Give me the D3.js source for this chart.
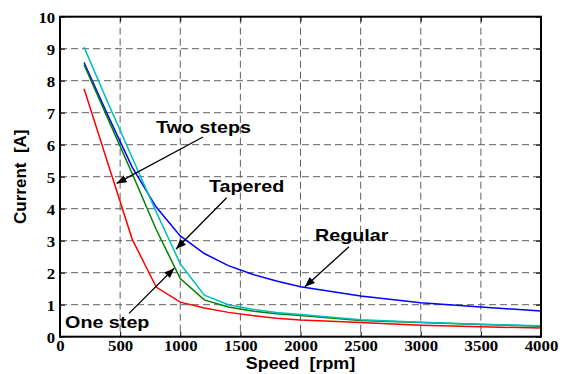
<!DOCTYPE html>
<html>
<head>
<meta charset="utf-8">
<script src="https://cdn.jsdelivr.net/npm/d3@7"></script>
<style>
  body { margin: 0; background: #fff; }
  svg { display: block; }
</style>
</head>
<body>
<script>
// speed [rpm] shared by every curve
const speed = [200, 400, 600, 800, 1000, 1200, 1400, 1600, 1800, 2000, 2500, 3000, 3500, 4000]

// current [A] per control strategy
const oneStep = [7.75, 5.4, 3.05, 1.55, 1.08, 0.9, 0.76, 0.66, 0.58, 0.52, 0.44, 0.36, 0.31, 0.27]
const regular = [8.57, 6.9, 5.3, 4.05, 3.15, 2.6, 2.22, 1.95, 1.74, 1.56, 1.27, 1.06, 0.93, 0.8]
const twoSteps = [8.5, 6.8, 5.1, 3.35, 1.82, 1.15, 0.93, 0.8, 0.72, 0.66, 0.51, 0.44, 0.38, 0.33]
const tapered = [9.05, 7.3, 5.6, 3.9, 2.28, 1.3, 1.0, 0.86, 0.76, 0.69, 0.53, 0.45, 0.39, 0.34]

const xTicks = [0, 500, 1000, 1500, 2000, 2500, 3000, 3500, 4000]
const yTicks = [0, 1, 2, 3, 4, 5, 6, 7, 8, 9, 10]

// label text, text anchor [rpm, A], arrow tail and arrow tip [rpm, A]
const notes = [
  { text: 'Two steps', at: [798, 6.37], from: [1189, 6.24], to: [471, 4.79] },
  { text: 'Tapered', at: [1239, 4.53], from: [1386, 4.34], to: [965, 2.74] },
  { text: 'One step', at: [42, 0.27], from: [574, 0.73], to: [950, 2.14] },
  { text: 'Regular', at: [2121, 2.99], from: [2403, 2.81], to: [2037, 1.56] }
]

const series = [
  { name: 'One step', values: oneStep, color: '#ff0000' },
  { name: 'Regular', values: regular, color: '#0000ff' },
  { name: 'Two steps', values: twoSteps, color: '#008000' },
  { name: 'Tapered', values: tapered, color: '#00bfbf' }
]

const W = 566, H = 374
const m = { top: 16.7, right: 25, bottom: 37.3, left: 60 }

const x = d3.scaleLinear().domain([0, 4000]).range([m.left, W - m.right])
const y = d3.scaleLinear().domain([0, 10]).range([H - m.bottom, m.top])

const svg = d3.select('body').append('svg').attr('width', W).attr('height', H)

// the original figure's lettering is a bit wider than our fonts
const stretch = (sel, sx) => sel.attr('transform', function () {
  const t = d3.select(this).attr('transform') || ''
  return `${t} scale(${sx},1)`
})

// dashed grid
const grid = svg.append('g').attr('stroke', '#606060').attr('stroke-width', 1).attr('stroke-dasharray', '7,4')
grid.selectAll('.gx').data(xTicks.slice(1, -1)).join('line')
  .attr('x1', d => x(d)).attr('x2', d => x(d))
  .attr('y1', y(10)).attr('y2', y(0))
grid.selectAll('.gy').data(yTicks.slice(1, -1)).join('line')
  .attr('y1', d => y(d)).attr('y2', d => y(d))
  .attr('x1', x(0)).attr('x2', x(4000))

// curves
const line = d3.line().x(d => x(d[0])).y(d => y(d[1]))
svg.append('g').selectAll('path').data(series).join('path')
  .attr('d', s => line(speed.map((v, i) => [v, s.values[i]])))
  .attr('fill', 'none')
  .attr('stroke', s => s.color)
  .attr('stroke-width', 1.5)

// inward ticks on all sides, labels on left/bottom
const tickFont = g => g.selectAll('text')
  .attr('font-family', '"Liberation Serif", "Times New Roman", serif')
  .attr('font-weight', 'bold').attr('font-size', 14).attr('fill', '#000')
  .call(stretch, 1.2)

svg.append('g').attr('transform', `translate(0,${y(0)})`)
  .call(d3.axisBottom(x).tickValues(xTicks).tickSize(-5).tickPadding(4).tickFormat(d3.format('d')))
  .call(g => g.select('.domain').remove())
  .call(tickFont)
svg.append('g').attr('transform', `translate(${x(0)},0)`)
  .call(d3.axisLeft(y).tickValues(yTicks).tickSize(-5).tickPadding(4).tickFormat(d3.format('d')))
  .call(g => g.select('.domain').remove())
  .call(tickFont)
  .call(g => g.selectAll('text').attr('dy', '0.38em'))
svg.append('g').attr('transform', `translate(0,${y(10)})`)
  .call(d3.axisTop(x).tickValues(xTicks).tickSize(-5).tickFormat(''))
  .call(g => g.select('.domain').remove())
svg.append('g').attr('transform', `translate(${x(4000)},0)`)
  .call(d3.axisRight(y).tickValues(yTicks).tickSize(-5).tickFormat(''))
  .call(g => g.select('.domain').remove())
svg.selectAll('.tick line').attr('stroke', '#000').attr('stroke-width', 1)

// frame
svg.append('rect')
  .attr('x', x(0)).attr('y', y(10))
  .attr('width', x(4000) - x(0)).attr('height', y(0) - y(10))
  .attr('fill', 'none').attr('stroke', '#000').attr('stroke-width', 2)

// axis titles
const sans = '"Liberation Sans", Arial, sans-serif'
svg.append('text')
  .attr('transform', `translate(${(x(0) + x(4000)) / 2},369)`)
  .attr('text-anchor', 'middle')
  .attr('font-family', sans).attr('font-weight', 'bold').attr('font-size', 16)
  .attr('xml:space', 'preserve')
  .text('Speed  [rpm]')
  .call(stretch, 1.12)
svg.append('text')
  .attr('transform', `translate(26,${(y(0) + y(10)) / 2}) rotate(-90)`)
  .attr('text-anchor', 'middle')
  .attr('font-family', sans).attr('font-weight', 'bold').attr('font-size', 17)
  .attr('xml:space', 'preserve')
  .text('Current  [A]')

// annotations
svg.append('defs').append('marker')
  .attr('id', 'head').attr('viewBox', '0 0 10 10')
  .attr('refX', 10).attr('refY', 5)
  .attr('markerWidth', 10).attr('markerHeight', 10)
  .attr('markerUnits', 'userSpaceOnUse')
  .attr('orient', 'auto')
  .append('path').attr('d', 'M0,1 L10,5 L0,9 Z').attr('fill', '#000')

const ann = svg.append('g')
ann.selectAll('line').data(notes).join('line')
  .attr('x1', d => x(d.from[0])).attr('y1', d => y(d.from[1]))
  .attr('x2', d => x(d.to[0])).attr('y2', d => y(d.to[1]))
  .attr('stroke', '#000').attr('stroke-width', 1.3)
  .attr('marker-end', 'url(#head)')
ann.selectAll('text').data(notes).join('text')
  .attr('transform', d => `translate(${x(d.at[0])},${y(d.at[1])})`)
  .attr('font-family', sans).attr('font-weight', 'bold').attr('font-size', 17)
  .text(d => d.text)
  .call(stretch, 1.16)
</script>
</body>
</html>
